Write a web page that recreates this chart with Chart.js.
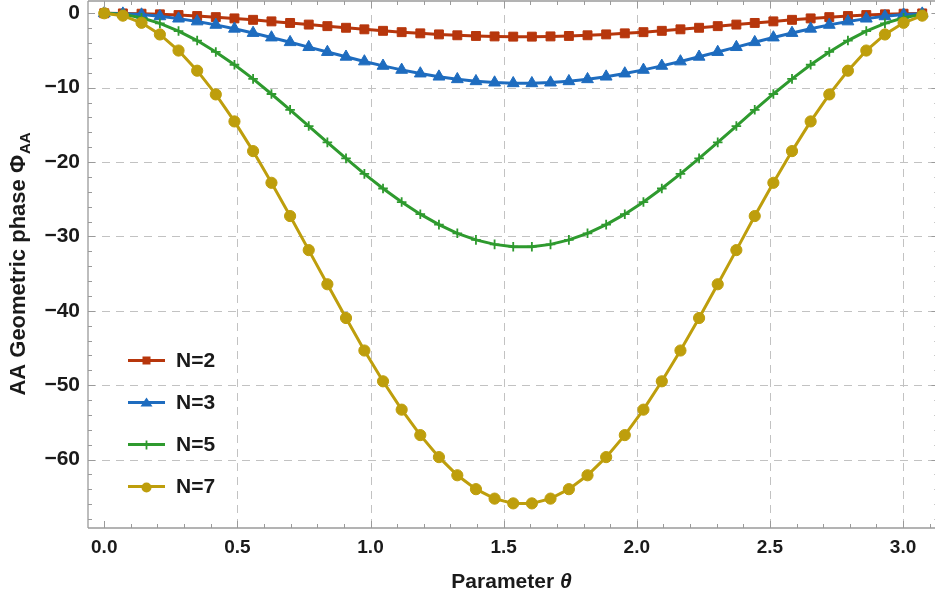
<!DOCTYPE html>
<html><head><meta charset="utf-8">
<script src="https://cdn.jsdelivr.net/npm/chart.js@4.4.1/dist/chart.umd.min.js"></script>
<style>html,body{margin:0;padding:0;background:#fff;overflow:hidden}canvas{display:block}</style>
</head><body>
<canvas id="c" width="935" height="601"></canvas>
<script>
// ---- data ----
const theta = [0.000, 0.070, 0.140, 0.209, 0.279, 0.349, 0.419, 0.489, 0.559, 0.628, 0.698, 0.768, 0.838, 0.908, 0.977, 1.047, 1.117, 1.187, 1.257, 1.326, 1.396, 1.466, 1.536, 1.606, 1.676, 1.745, 1.815, 1.885, 1.955, 2.025, 2.094, 2.164, 2.234, 2.304, 2.374, 2.443, 2.513, 2.583, 2.653, 2.723, 2.793, 2.862, 2.932, 3.002, 3.072];
const phaseN2 = [0, -0.02, -0.06, -0.14, -0.24, -0.37, -0.52, -0.69, -0.88, -1.09, -1.30, -1.52, -1.73, -1.95, -2.16, -2.36, -2.54, -2.70, -2.84, -2.96, -3.05, -3.11, -3.14, -3.14, -3.11, -3.05, -2.96, -2.84, -2.70, -2.54, -2.36, -2.16, -1.95, -1.73, -1.52, -1.30, -1.09, -0.88, -0.69, -0.52, -0.37, -0.24, -0.14, -0.06, -0.02];
const phaseN3 = [0, -0.05, -0.18, -0.41, -0.72, -1.10, -1.56, -2.08, -2.65, -3.26, -3.89, -4.55, -5.21, -5.85, -6.48, -7.07, -7.61, -8.10, -8.52, -8.87, -9.14, -9.32, -9.41, -9.41, -9.32, -9.14, -8.87, -8.52, -8.10, -7.61, -7.07, -6.48, -5.85, -5.21, -4.55, -3.89, -3.26, -2.65, -2.08, -1.56, -1.10, -0.72, -0.41, -0.18, -0.05];
const phaseN5 = [0, -0.15, -0.61, -1.36, -2.39, -3.67, -5.20, -6.92, -8.82, -10.85, -12.98, -15.16, -17.35, -19.51, -21.59, -23.56, -25.38, -27.01, -28.42, -29.58, -30.47, -31.07, -31.38, -31.38, -31.07, -30.47, -29.58, -28.42, -27.01, -25.38, -23.56, -21.59, -19.51, -17.35, -15.16, -12.98, -10.85, -8.82, -6.92, -5.20, -3.67, -2.39, -1.36, -0.61, -0.15];
const phaseN7 = [0, -0.32, -1.28, -2.85, -5.01, -7.72, -10.91, -14.54, -18.53, -22.79, -27.26, -31.84, -36.43, -40.97, -45.34, -49.48, -53.29, -56.71, -59.67, -62.11, -63.98, -65.25, -65.89, -65.89, -65.25, -63.98, -62.11, -59.67, -56.71, -53.29, -49.48, -45.34, -40.97, -36.43, -31.84, -27.26, -22.79, -18.53, -14.54, -10.91, -7.72, -5.01, -2.85, -1.28, -0.32];
const seriesLabels = ['N=2', 'N=3', 'N=5', 'N=7'];
const xTickValues = [0, 0.5, 1, 1.5, 2, 2.5, 3];
const xTickLabels = ['0.0', '0.5', '1.0', '1.5', '2.0', '2.5', '3.0'];
const yTickValues = [0, -10, -20, -30, -40, -50, -60];
const yTickLabels = ['0', '\u221210', '\u221220', '\u221230', '\u221240', '\u221250', '\u221260'];
const xTitle = ['Parameter ', '\u03b8'];
const yTitle = ['AA Geometric phase \u03a6', 'AA'];

// ---- styles ----
const colors = ['#B7360C', '#1E6CBF', '#2E9A2E', '#BE9E0C'];
const styles = ['rect', 'triangle', 'cross', 'circle'];
const radii = [6.3, 6.8, 4.8, 5.6];
const FONT = '"Liberation Sans", Arial, sans-serif';
const FRAME = '#9a9a9a';

const seriesValues = [phaseN2, phaseN3, phaseN5, phaseN7];
const datasets = seriesValues.map((vals, i) => ({
  label: seriesLabels[i],
  data: theta.map((t, j) => ({x: t, y: vals[j]})),
  borderColor: colors[i],
  backgroundColor: colors[i],
  borderWidth: 3,
  pointStyle: styles[i],
  pointRadius: radii[i],
  pointBorderWidth: styles[i] === 'cross' ? 1.8 : 1,
  pointBorderColor: colors[i],
  pointBackgroundColor: colors[i],
  tension: 0,
  fill: false,
  clip: false,
  order: 3 - i
}));

function line(ctx, x1, y1, x2, y2) { ctx.beginPath(); ctx.moveTo(x1, y1); ctx.lineTo(x2, y2); ctx.stroke(); }

function drawMarker(ctx, style, cx, cy, color) {
  ctx.fillStyle = color; ctx.strokeStyle = color;
  if (style === 'rect') { ctx.fillRect(cx - 4, cy - 4, 8, 8); }
  else if (style === 'triangle') {
    ctx.beginPath(); ctx.moveTo(cx, cy - 5); ctx.lineTo(cx + 6, cy + 4); ctx.lineTo(cx - 6, cy + 4); ctx.closePath(); ctx.fill();
  } else if (style === 'cross') {
    ctx.lineWidth = 1.8; line(ctx, cx, cy - 4, cx, cy + 5);
  } else { ctx.beginPath(); ctx.arc(cx, cy + 1, 5, 0, Math.PI * 2); ctx.fill(); }
}

const framePlugin = {
  id: 'frame',
  beforeDatasetsDraw(chart) {
    const {ctx, chartArea: a, scales: {x, y}} = chart;
    ctx.save();
    ctx.strokeStyle = '#c2c2c2'; ctx.lineWidth = 1; ctx.setLineDash([8, 6]);
    xTickValues.filter(v => v !== 0).forEach(v => {
      const px = Math.round(x.getPixelForValue(v)) + 0.5; line(ctx, px, a.top, px, a.bottom);
    });
    yTickValues.filter(v => v !== 0).forEach(v => {
      const py = Math.round(y.getPixelForValue(v)) + 0.5; line(ctx, a.left, py, a.right, py);
    });
    ctx.restore();
  },
  afterDatasetsDraw(chart) {
    const {ctx, chartArea: a, scales: {x, y}} = chart;
    const xr = x.getPixelForValue(3.133);
    ctx.save();
    ctx.strokeStyle = FRAME; ctx.lineWidth = 1.3;
    line(ctx, a.left, a.top, a.left, a.bottom);
    line(ctx, a.left, a.bottom, a.right, a.bottom);
    line(ctx, a.left, a.top, a.right, a.top);
    ctx.lineWidth = 1;
    for (let i = 0; i <= 31; i++) {
      const v = i / 10, major = i % 5 === 0, len = major ? 7 : 4;
      const px = Math.round(x.getPixelForValue(v)) + 0.5;
      line(ctx, px, a.bottom, px, a.bottom - len);
      line(ctx, px, a.top, px, a.top + len);
    }
    for (let v = -68; v <= 0; v += 2) {
      const major = v % 10 === 0, len = major ? 7 : 4;
      const py = Math.round(y.getPixelForValue(v)) + 0.5;
      line(ctx, a.left, py, a.left + len, py);
      line(ctx, xr, py, xr - len, py);
    }
    ctx.restore();
  },
  afterDraw(chart) {
    const {ctx, chartArea: a} = chart;
    ctx.save();
    ctx.fillStyle = '#1a1a1a';
    // x title
    ctx.textBaseline = 'alphabetic'; ctx.textAlign = 'left';
    const f1 = 'bold 21px ' + FONT, f2 = 'italic bold 21px ' + FONT;
    ctx.font = f1; const w1 = ctx.measureText(xTitle[0]).width;
    ctx.font = f2; const w2 = ctx.measureText(xTitle[1]).width;
    let sx = (a.left + a.right) / 2 - (w1 + w2) / 2;
    ctx.font = f1; ctx.fillText(xTitle[0], sx, 588);
    ctx.font = f2; ctx.fillText(xTitle[1], sx + w1, 588);
    // y title
    const g1 = 'bold 22px ' + FONT, g2 = 'bold 15px ' + FONT;
    ctx.font = g1; const v1 = ctx.measureText(yTitle[0]).width;
    ctx.font = g2; const v2 = ctx.measureText(yTitle[1]).width;
    ctx.translate(25, (a.top + a.bottom) / 2);
    ctx.rotate(-Math.PI / 2);
    const s0 = -(v1 + v2) / 2;
    ctx.font = g1; ctx.fillText(yTitle[0], s0, 0);
    ctx.font = g2; ctx.fillText(yTitle[1], s0 + v1 + 1, 5);
    ctx.restore();
    // legend
    ctx.save();
    const rows = [360.5, 402.5, 444.5, 486.5];
    seriesLabels.forEach((lab, i) => {
      const cy = rows[i];
      ctx.strokeStyle = colors[i]; ctx.lineWidth = 3;
      line(ctx, 128, cy, 165, cy);
      drawMarker(ctx, styles[i], 146.5, cy, colors[i]);
      ctx.fillStyle = '#1a1a1a';
      ctx.font = 'bold 21px ' + FONT; ctx.textBaseline = 'middle'; ctx.textAlign = 'left';
      ctx.fillText(lab, 176, cy + 1);
    });
    ctx.restore();
  }
};

new Chart(document.getElementById('c'), {
  type: 'line',
  data: {datasets},
  options: {
    responsive: false, animation: false, devicePixelRatio: 1,
    layout: {autoPadding: false, padding: {left: 0, right: 0, top: 1, bottom: 0}},
    plugins: {legend: {display: false}, tooltip: {enabled: false}},
    scales: {
      x: {
        type: 'linear', min: -0.061, max: 3.12,
        grid: {display: false, drawTicks: false}, border: {display: false},
        afterBuildTicks: s => { s.ticks = xTickValues.map(v => ({value: v})); },
        afterFit: s => { s.height = 73; s.paddingLeft = 0; s.paddingRight = 0; s.paddingTop = 0; s.paddingBottom = 0; },
        ticks: {
          padding: 8, color: '#1a1a1a', maxRotation: 0, autoSkip: false,
          font: {family: FONT, size: 19, weight: 'bold'},
          callback: v => { const k = xTickValues.indexOf(v); return k >= 0 ? xTickLabels[k] : ''; }
        }
      },
      y: {
        type: 'linear', min: -69.2, max: 1.65,
        grid: {display: false, drawTicks: false}, border: {display: false},
        afterBuildTicks: s => { s.ticks = yTickValues.map(v => ({value: v})); },
        afterFit: s => { s.width = 88; s.paddingLeft = 0; s.paddingRight = 0; s.paddingTop = 0; s.paddingBottom = 0; },
        ticks: {
          padding: 8, color: '#1a1a1a', autoSkip: false,
          font: {family: FONT, size: 21, weight: 'bold'},
          callback: v => { const k = yTickValues.indexOf(v); return k >= 0 ? yTickLabels[k] : ''; }
        }
      }
    }
  },
  plugins: [framePlugin]
});
</script>
</body></html>
